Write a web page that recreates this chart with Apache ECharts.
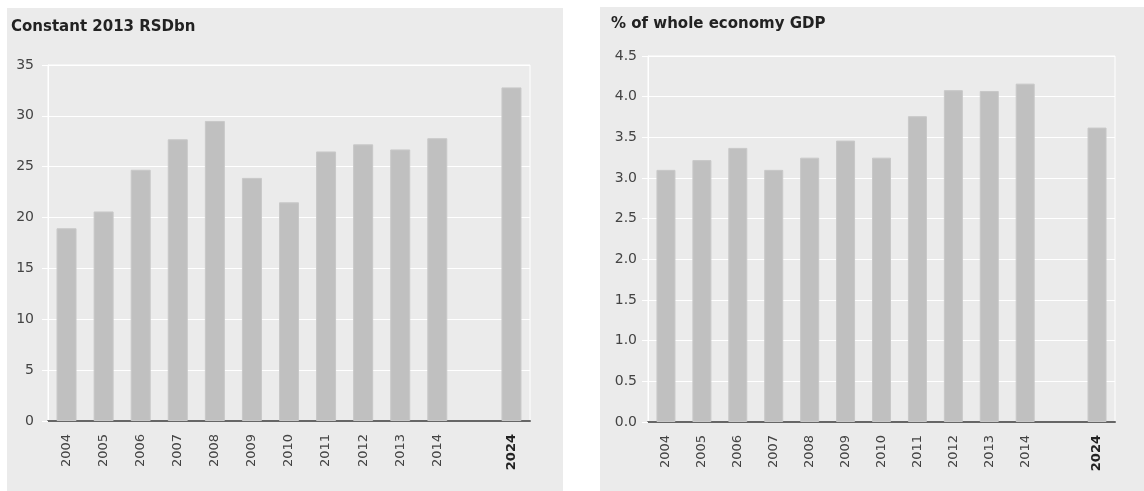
<!DOCTYPE html>
<html>
<head>
<meta charset="utf-8">
<script src="https://cdn.jsdelivr.net/npm/echarts@6/dist/echarts.min.js"></script>
<style>
  html, body { margin: 0; padding: 0; background: #fff; }
  #chart { width: 1144px; height: 491px; }
</style>
</head>
<body>
<div id="chart"></div>
<script>
// categories (blank slot between 2014 and 2024)
const years = ['2004', '2005', '2006', '2007', '2008', '2009', '2010', '2011', '2012', '2013', '2014', '', '2024'];
// left panel: constant 2013 RSD bn
const rsdBn = [18.95, 20.6, 24.7, 27.7, 29.5, 23.9, 21.5, 26.5, 27.2, 26.7, 27.8, null, 32.8];
// right panel: % of whole economy GDP
const gdpShare = [3.10, 3.22, 3.37, 3.10, 3.25, 3.46, 3.25, 3.76, 4.08, 4.07, 4.16, null, 3.62];

const titles = ['Constant 2013 RSDbn', '% of whole economy GDP'];

const myChart = echarts.init(document.getElementById('chart'));

const labelFont = 'DejaVu Sans';

function xAxisFor(idx) {
  return {
    type: 'category',
    gridIndex: idx,
    data: years,
    axisLine: { lineStyle: { color: '#666', width: 2 } },
    axisTick: { show: false },
    axisLabel: {
      rotate: 90,
      interval: 0,
      margin: 13,
      color: '#444',
      fontFamily: labelFont,
      fontSize: 13,
      formatter: function (v) {
        return v === '2024' ? '{b|' + v + '}' : v;
      },
      rich: {
        b: { fontWeight: 'bold', color: '#222', fontFamily: labelFont, fontSize: 13 }
      }
    }
  };
}

function yAxisFor(idx, max, step, digits, gap) {
  return {
    type: 'value',
    gridIndex: idx,
    min: 0,
    max: max,
    interval: step,
    axisLine: { show: true, lineStyle: { color: '#fff', width: 1 } },
    axisTick: { show: true, length: 6, lineStyle: { color: '#fff' } },
    axisLabel: {
      margin: gap,
      color: '#444',
      fontFamily: labelFont,
      fontSize: 14,
      formatter: function (v) { return v.toFixed(digits); }
    },
    splitLine: { lineStyle: { color: '#fff', width: 1 } }
  };
}

const option = {
  animation: false,
  backgroundColor: '#fff',
  graphic: [
    { type: 'rect', shape: { x: 7, y: 8, width: 556, height: 483 }, style: { fill: '#ebebeb' }, z: -10 },
    { type: 'rect', shape: { x: 600, y: 7, width: 544, height: 484 }, style: { fill: '#ebebeb' }, z: -10 }
  ],
  title: [
    {
      text: titles[0], left: 6, top: 15,
      textStyle: { color: '#222', fontFamily: labelFont, fontWeight: 'bold', fontSize: 15 }
    },
    {
      text: titles[1], left: 606, top: 12,
      textStyle: { color: '#222', fontFamily: labelFont, fontWeight: 'bold', fontSize: 15 }
    }
  ],
  grid: [
    { left: 48, top: 65, width: 482, height: 356, show: true, borderColor: '#fff', borderWidth: 1, backgroundColor: 'transparent' },
    { left: 648, top: 56, width: 467, height: 366, show: true, borderColor: '#fff', borderWidth: 1, backgroundColor: 'transparent' }
  ],
  xAxis: [xAxisFor(0), xAxisFor(1)],
  yAxis: [yAxisFor(0, 35, 5, 0, 14), yAxisFor(1, 4.5, 0.5, 1, 11)],
  series: [
    {
      name: titles[0],
      type: 'bar',
      xAxisIndex: 0,
      yAxisIndex: 0,
      barWidth: 20,
      itemStyle: { color: '#c0c0c0', borderColor: '#c8c8c8', borderWidth: 1 },
      data: rsdBn
    },
    {
      name: titles[1],
      type: 'bar',
      xAxisIndex: 1,
      yAxisIndex: 1,
      barWidth: 19,
      itemStyle: { color: '#c0c0c0', borderColor: '#c8c8c8', borderWidth: 1 },
      data: gdpShare
    }
  ]
};

myChart.setOption(option);
window.addEventListener('resize', myChart.resize);
</script>
</body>
</html>
